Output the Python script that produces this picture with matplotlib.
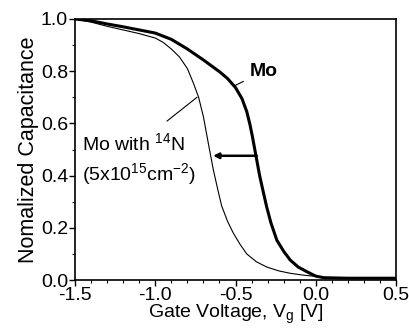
import numpy as np
import matplotlib
matplotlib.use("Agg")
import matplotlib.pyplot as plt
from matplotlib.ticker import MultipleLocator

plt.rcParams['font.family'] = ['Liberation Sans', 'DejaVu Sans']
plt.rcParams['mathtext.fontset'] = 'custom'
plt.rcParams['mathtext.rm'] = 'Liberation Sans'
plt.rcParams['mathtext.it'] = 'Liberation Sans:italic'
plt.rcParams['mathtext.bf'] = 'Liberation Sans:bold'
plt.rcParams['axes.unicode_minus'] = False

# C-V curve, plain Mo gate (thick line)
mo_v = [-1.5, -1.4, -1.3, -1.2, -1.1, -1.0, -0.9, -0.8, -0.7, -0.6, -0.55,
        -0.5, -0.46, -0.43, -0.41, -0.395, -0.38, -0.368, -0.35,
        -0.33, -0.306, -0.28, -0.243, -0.20, -0.16, -0.11, -0.056, 0.0,
        0.05, 0.2, 0.5]
mo_c = [1.000, 0.993, 0.981, 0.970, 0.958, 0.946, 0.922, 0.885, 0.843, 0.798, 0.772,
        0.737, 0.695, 0.645, 0.595, 0.55, 0.50, 0.46, 0.40,
        0.345, 0.28, 0.22, 0.153, 0.11, 0.077, 0.05, 0.032, 0.015,
        0.009, 0.007, 0.007]

# C-V curve, Mo with 14N implant (thin line)
mon_v = [-1.5, -1.4, -1.3, -1.2, -1.1, -1.0, -0.95, -0.9, -0.85, -0.8, -0.763,
         -0.73, -0.70, -0.67, -0.638, -0.61, -0.587, -0.55, -0.514, -0.47, -0.43,
         -0.37, -0.306, -0.23, -0.16, -0.08, -0.017, 0.05, 0.2, 0.5]
mon_c = [1.000, 0.988, 0.972, 0.958, 0.944, 0.927, 0.91, 0.885, 0.855, 0.81, 0.755,
         0.70, 0.625, 0.525, 0.421, 0.345, 0.285, 0.225, 0.18, 0.135, 0.10,
         0.07, 0.05, 0.035, 0.026, 0.019, 0.015, 0.010, 0.007, 0.007]

# shift arrow (from Mo curve to Mo+N curve)
arrow_y = 0.476
arrow_from = -0.368
arrow_to = -0.64

fig = plt.figure(figsize=(4.10, 3.33), dpi=100)
ax = fig.add_axes([0.183, 0.159, 0.783, 0.784])

ax.plot(mon_v, mon_c, color='black', lw=0.8)
ax.plot(mo_v, mo_c, color='black', lw=2.2)

ax.annotate('', xy=(arrow_to, arrow_y), xytext=(arrow_from, arrow_y),
            arrowprops=dict(arrowstyle='-|>', color='black', lw=1.8,
                            mutation_scale=8, shrinkA=0, shrinkB=0))

ax.annotate('Mo', xy=(-0.51, 0.743), xytext=(-0.41, 0.80),
            fontsize=14, fontweight='bold', va='center', ha='left',
            arrowprops=dict(arrowstyle='-', color='black', lw=0.8,
                            shrinkA=3, shrinkB=0))
ax.annotate('', xy=(-0.74, 0.70), xytext=(-0.927, 0.609),
            arrowprops=dict(arrowstyle='-', color='black', lw=0.8,
                            shrinkA=0, shrinkB=0))
ax.text(-1.455, 0.525, 'Mo with $^{14}$N', fontsize=14, va='center', ha='left')
ax.text(-1.455, 0.405, '(5x10$^{15}$cm$^{-2}$)', fontsize=14, va='center', ha='left')

ax.set_xlim(-1.5, 0.5)
ax.set_ylim(0.0, 1.0)
ax.xaxis.set_major_locator(MultipleLocator(0.5))
ax.xaxis.set_minor_locator(MultipleLocator(0.1))
ax.yaxis.set_major_locator(MultipleLocator(0.2))
ax.yaxis.set_minor_locator(MultipleLocator(0.1))
ax.xaxis.set_major_formatter(plt.FormatStrFormatter('%.1f'))
ax.yaxis.set_major_formatter(plt.FormatStrFormatter('%.1f'))
ax.tick_params(which='major', direction='out', length=4, width=1, labelsize=14, pad=1)
ax.tick_params(which='minor', direction='out', length=2, width=0.8)
for s in ax.spines.values():
    s.set_linewidth(1.2)

ax.set_xlabel('Gate Voltage, V$_\\mathrm{g}$ [V]', fontsize=14, labelpad=-1)
ax.set_ylabel('Nomalized Capacitance', fontsize=15.5, labelpad=1)

fig.savefig('out.png', dpi=100)
